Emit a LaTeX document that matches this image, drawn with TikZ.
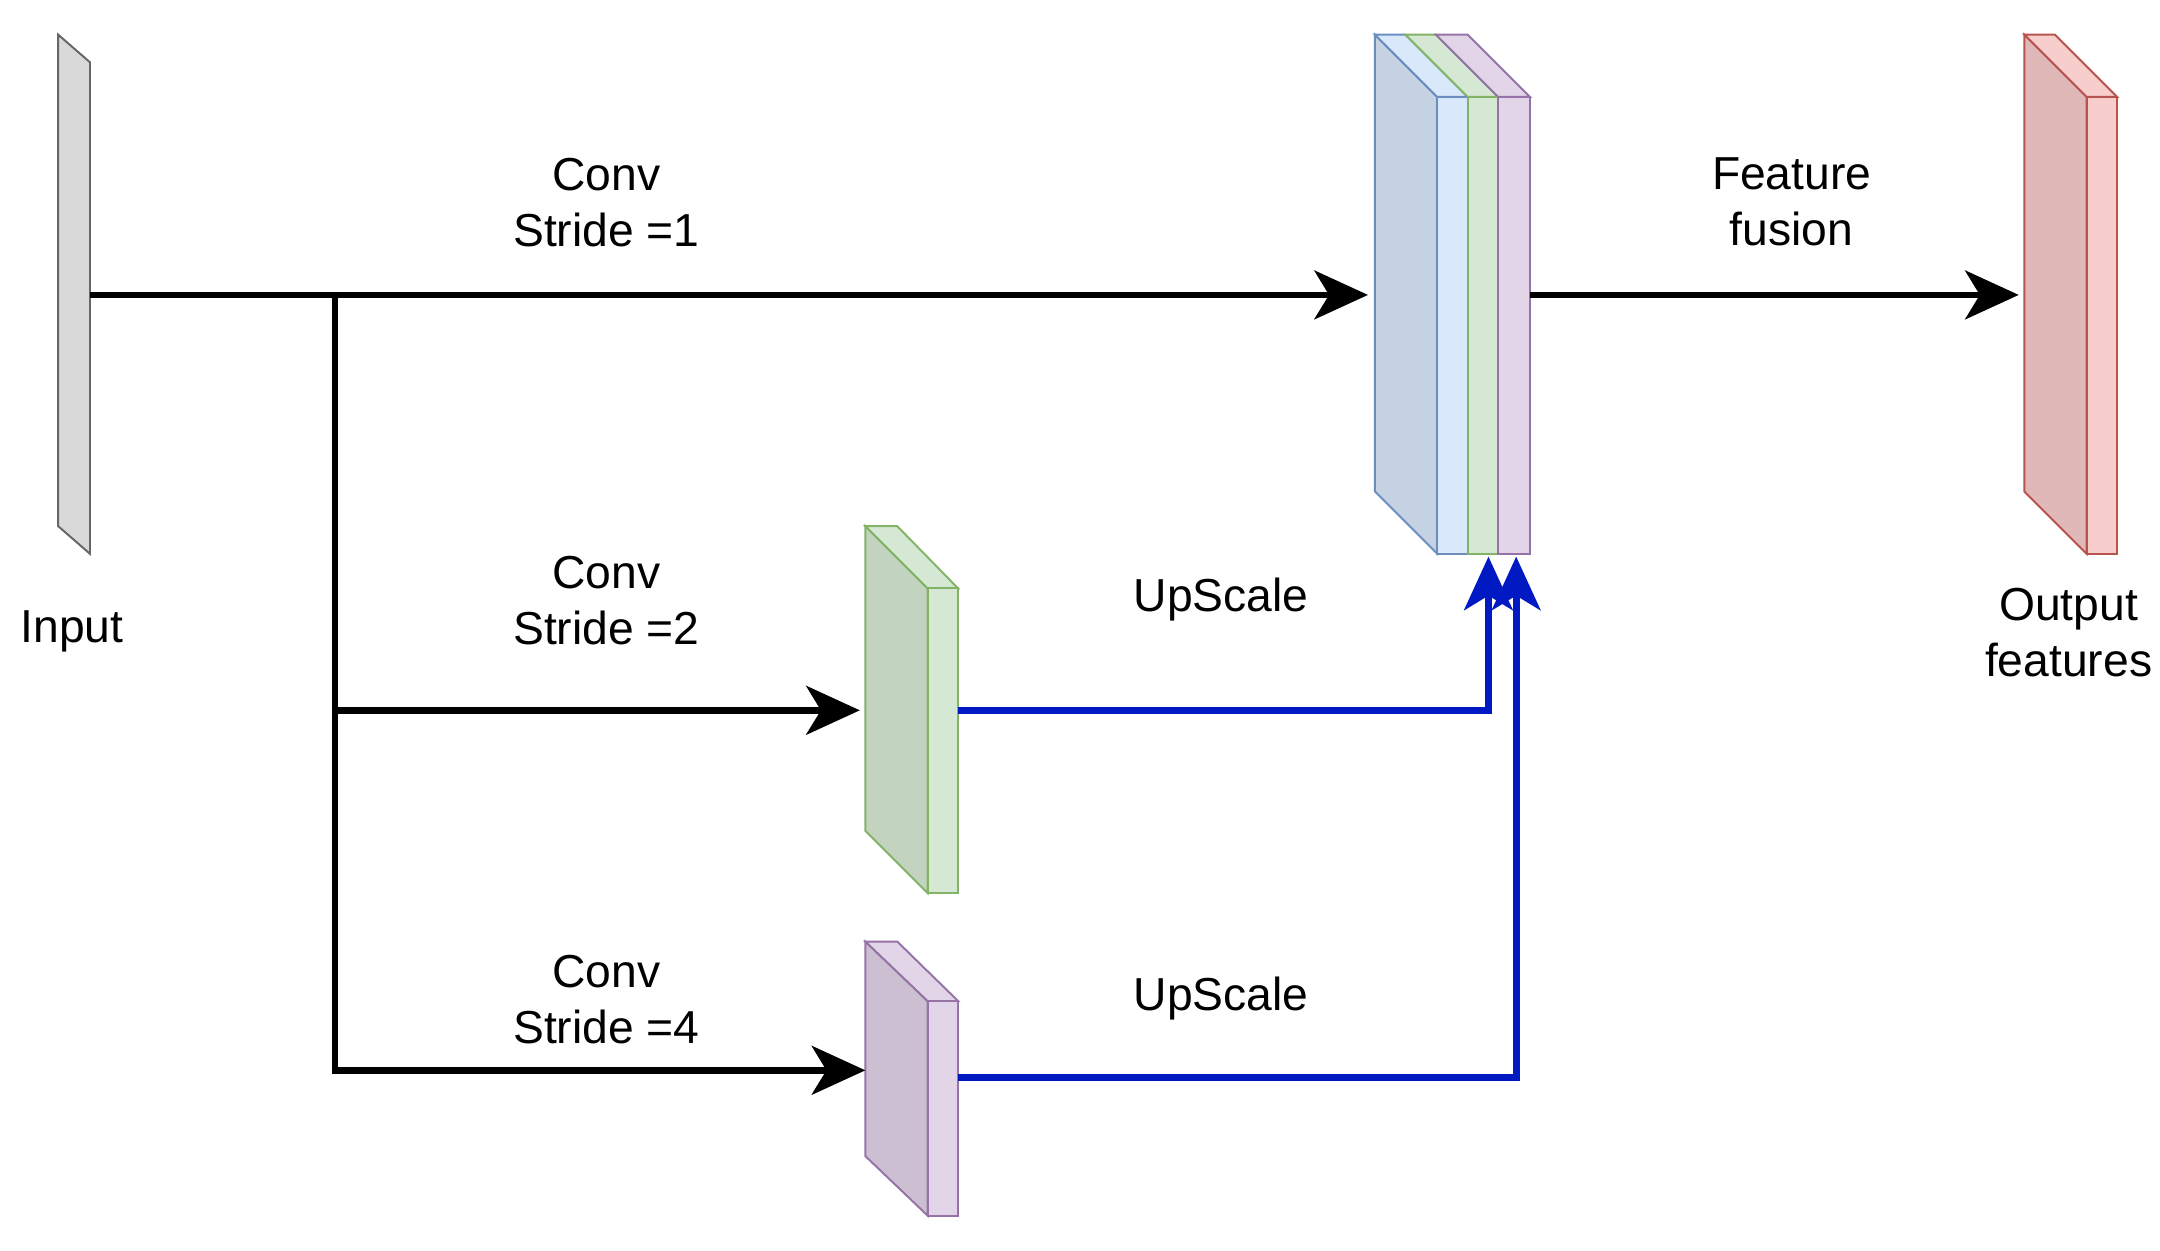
\documentclass[tikz,border=0pt]{standalone}
\usepackage{fontspec}
\setmainfont{Liberation Sans}
\usetikzlibrary{arrows.meta}
\definecolor{blueface}{HTML}{DAE8FC}\definecolor{blueside}{HTML}{C4D2E4}\definecolor{blueedge}{HTML}{6C8EBF}
\definecolor{greenface}{HTML}{D5E8D4}\definecolor{greenside}{HTML}{C2D4C0}\definecolor{greenedge}{HTML}{82B366}
\definecolor{purpface}{HTML}{E1D5E7}\definecolor{purpside}{HTML}{CBBFD1}\definecolor{purpedge}{HTML}{9673A6}
\definecolor{redface}{HTML}{F8CECC}\definecolor{redside}{HTML}{DFB8B7}\definecolor{rededge}{HTML}{B85450}
\definecolor{upblue}{HTML}{0019C2}
\begin{document}
\begin{tikzpicture}[x=0.01cm,y=-0.01cm]
\tikzstyle{label_text}=[align=center, font=\fontsize{9.5}{11.5}\selectfont];
\tikzstyle{arrow}=[-{Stealth[length=11pt,width=10pt,inset=3pt]}, line width=1.4pt];
\tikzstyle{up_arrow}=[-{Stealth[length=11pt,width=10pt,inset=3pt]}, line width=1.4pt, draw=upblue];
\useasboundingbox (0,0) rectangle (1560,903);

% input slab
\draw[fill=black!15, draw=black!60] (42,25) -- (65,45) -- (65,400) -- (42,380) -- cycle;
% green block
\draw[fill=greenside, draw=greenedge] (625,380) -- (670,425) -- (670,645) -- (625,600) -- cycle;
\draw[fill=greenface, draw=greenedge] (625,380) -- (648,380) -- (692,425) -- (670,425) -- cycle;
\draw[fill=greenface, draw=greenedge] (670,425) rectangle (692,645);
% purple block
\draw[fill=purpside, draw=purpedge] (625,680) -- (670,723) -- (670,878) -- (625,835) -- cycle;
\draw[fill=purpface, draw=purpedge] (625,680) -- (648,680) -- (692,723) -- (670,723) -- cycle;
\draw[fill=purpface, draw=purpedge] (670,723) rectangle (692,878);
% stacked block
\draw[fill=blueside, draw=blueedge] (993,25) -- (1038,70) -- (1038,400) -- (993,355) -- cycle;
\draw[fill=blueface, draw=blueedge] (993,25) -- (1015,25) -- (1060,70) -- (1038,70) -- cycle;
\draw[fill=greenface, draw=greenedge] (1015,25) -- (1037,25) -- (1082,70) -- (1060,70) -- cycle;
\draw[fill=purpface, draw=purpedge] (1037,25) -- (1060,25) -- (1105,70) -- (1082,70) -- cycle;
\draw[fill=blueface, draw=blueedge] (1038,70) rectangle (1060,400);
\draw[fill=greenface, draw=greenedge] (1060,70) rectangle (1082,400);
\draw[fill=purpface, draw=purpedge] (1082,70) rectangle (1105,400);
% output block
\draw[fill=redside, draw=rededge] (1462,25) -- (1507,70) -- (1507,400) -- (1462,355) -- cycle;
\draw[fill=redface, draw=rededge] (1462,25) -- (1484,25) -- (1529,70) -- (1507,70) -- cycle;
\draw[fill=redface, draw=rededge] (1507,70) rectangle (1529,400);

\coordinate (Input) at (65,213);
\coordinate (Split) at (242,213);
\coordinate (Fused) at (988,213);
\coordinate (Fused Out) at (1105,213);
\coordinate (Output) at (1458,213);
\coordinate (Green In) at (621,513);
\coordinate (Green Out) at (692,513);
\coordinate (Purple In) at (625,773);
\coordinate (Purple Out) at (692,778);
\coordinate (Stack Green) at (1075,402);
\coordinate (Stack Purple) at (1095,402);

\node [label_text] at (438,146) (Conv1) {Conv\\Stride =1};
\node [label_text] at (438,434) (Conv2) {Conv\\Stride =2};
\node [label_text] at (438,722) (Conv4) {Conv\\Stride =4};
\node [label_text] at (882,433) (Up2) {UpScale};
\node [label_text] at (882,721) (Up4) {UpScale};
\node [label_text] at (1294,146) (Fusion) {Feature\\fusion};
\node [label_text] at (52,456) (Input Label) {Input};
\node [label_text] at (1494,457) (Output Label) {Output\\features};

\draw[arrow] (Input) -- (Fused);
\draw[arrow] (Split) |- (Purple In);
\draw[arrow] (Split |- Green In) -- (Green In);
\draw[arrow] (Fused Out) -- (Output);
\draw[up_arrow] (Green Out) -| (Stack Green);
\draw[up_arrow] (Purple Out) -| (Stack Purple);
\end{tikzpicture}
\end{document}
